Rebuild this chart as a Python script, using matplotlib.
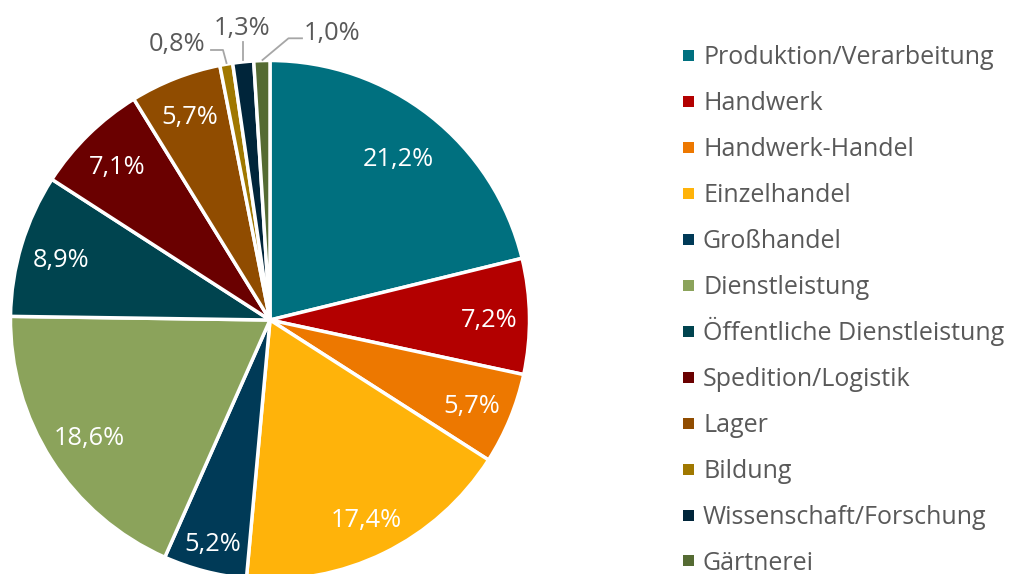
import matplotlib
matplotlib.use("Agg")
import matplotlib.pyplot as plt
from matplotlib.patches import Rectangle
import numpy as np

plt.rcParams["font.family"] = ["Open Sans", "DejaVu Sans"]

categories = [
    "Produktion/Verarbeitung", "Handwerk", "Handwerk-Handel", "Einzelhandel",
    "Großhandel", "Dienstleistung", "Öffentliche Dienstleistung",
    "Spedition/Logistik", "Lager", "Bildung", "Wissenschaft/Forschung", "Gärtnerei",
]
shares = [21.2, 7.2, 5.7, 17.4, 5.2, 18.6, 8.9, 7.1, 5.7, 0.8, 1.3, 1.0]
colors = [
    "#00707f", "#b30000", "#ed7800", "#ffb30a", "#003a57", "#8ba35b",
    "#00444f", "#6a0000", "#904c00", "#a07800", "#00253a", "#556b33",
]
# radial position of the inside labels (fraction of radius)
label_dist = [0.80, 0.845, 0.84, 0.845, 0.88, 0.825, 0.84, 0.84, 0.85]
small = [9, 10, 11]  # labels outside with leader lines

W, H = 1009, 574
R = 259.5
CX, CY = 270, 254  # pie centre, pixels from left / bottom

fig = plt.figure(figsize=(W / 100, H / 100), dpi=100)
ax = fig.add_axes([0, 0, 1, 1])

wedges, _ = ax.pie(
    shares, colors=colors, startangle=90, counterclock=False,
    radius=1.0, wedgeprops=dict(edgecolor="white", linewidth=2.5),
)
ax.set_aspect("auto")
ax.set_xlim(-CX / R, (W - CX) / R)
ax.set_ylim(-CY / R, (H - CY) / R)
ax.axis("off")


def px(x, y):
    # pixel coords (from top-left) -> data coords
    return (x - CX) / R, (H - y - CY) / R


cum = np.cumsum([0] + shares[:-1])
total = sum(shares)
half_digit = 9.8 / R
for i, d in enumerate(label_dist):
    mid = np.deg2rad(90 - (cum[i] + shares[i] / 2) / total * 360)
    txt = f"{shares[i]:.1f}%".replace(".", ",")
    ax.text(d * np.cos(mid), d * np.sin(mid) - half_digit, txt, color="white",
            fontsize=18.3, ha="center", va="baseline")

# outside labels: text centre and leader line points (pixels)
out_text = {9: (177, 41), 10: (242, 25), 11: (332, 30)}
out_line = {
    9: [(211, 50), (223, 50), (226.5, 63)],
    10: [(243.5, 42), (243.5, 60)],
    11: [(302, 38.3), (288.5, 38.3), (262.5, 60)],
}
for i in small:
    txt = f"{shares[i]:.1f}%".replace(".", ",")
    tx, ty = px(*out_text[i])
    ax.text(tx, ty - half_digit, txt, color="#595959", fontsize=18.3,
            ha="center", va="baseline")
    pts = [px(*p) for p in out_line[i]]
    ax.plot([p[0] for p in pts], [p[1] for p in pts], color="#a6a6a6", lw=1.3)

# legend
for i, (name, col) in enumerate(zip(categories, colors)):
    yc = 55.5 + i * 45.95
    fig.patches.append(Rectangle((683 / W, (H - yc - 5.5) / H), 11 / W, 11 / H,
                                 transform=fig.transFigure, facecolor=col,
                                 edgecolor="none"))
    fig.text(703 / W, (H - yc - 9) / H, name, color="#595959", fontsize=18,
             ha="left", va="baseline")

fig.savefig("out.png", dpi=100)
